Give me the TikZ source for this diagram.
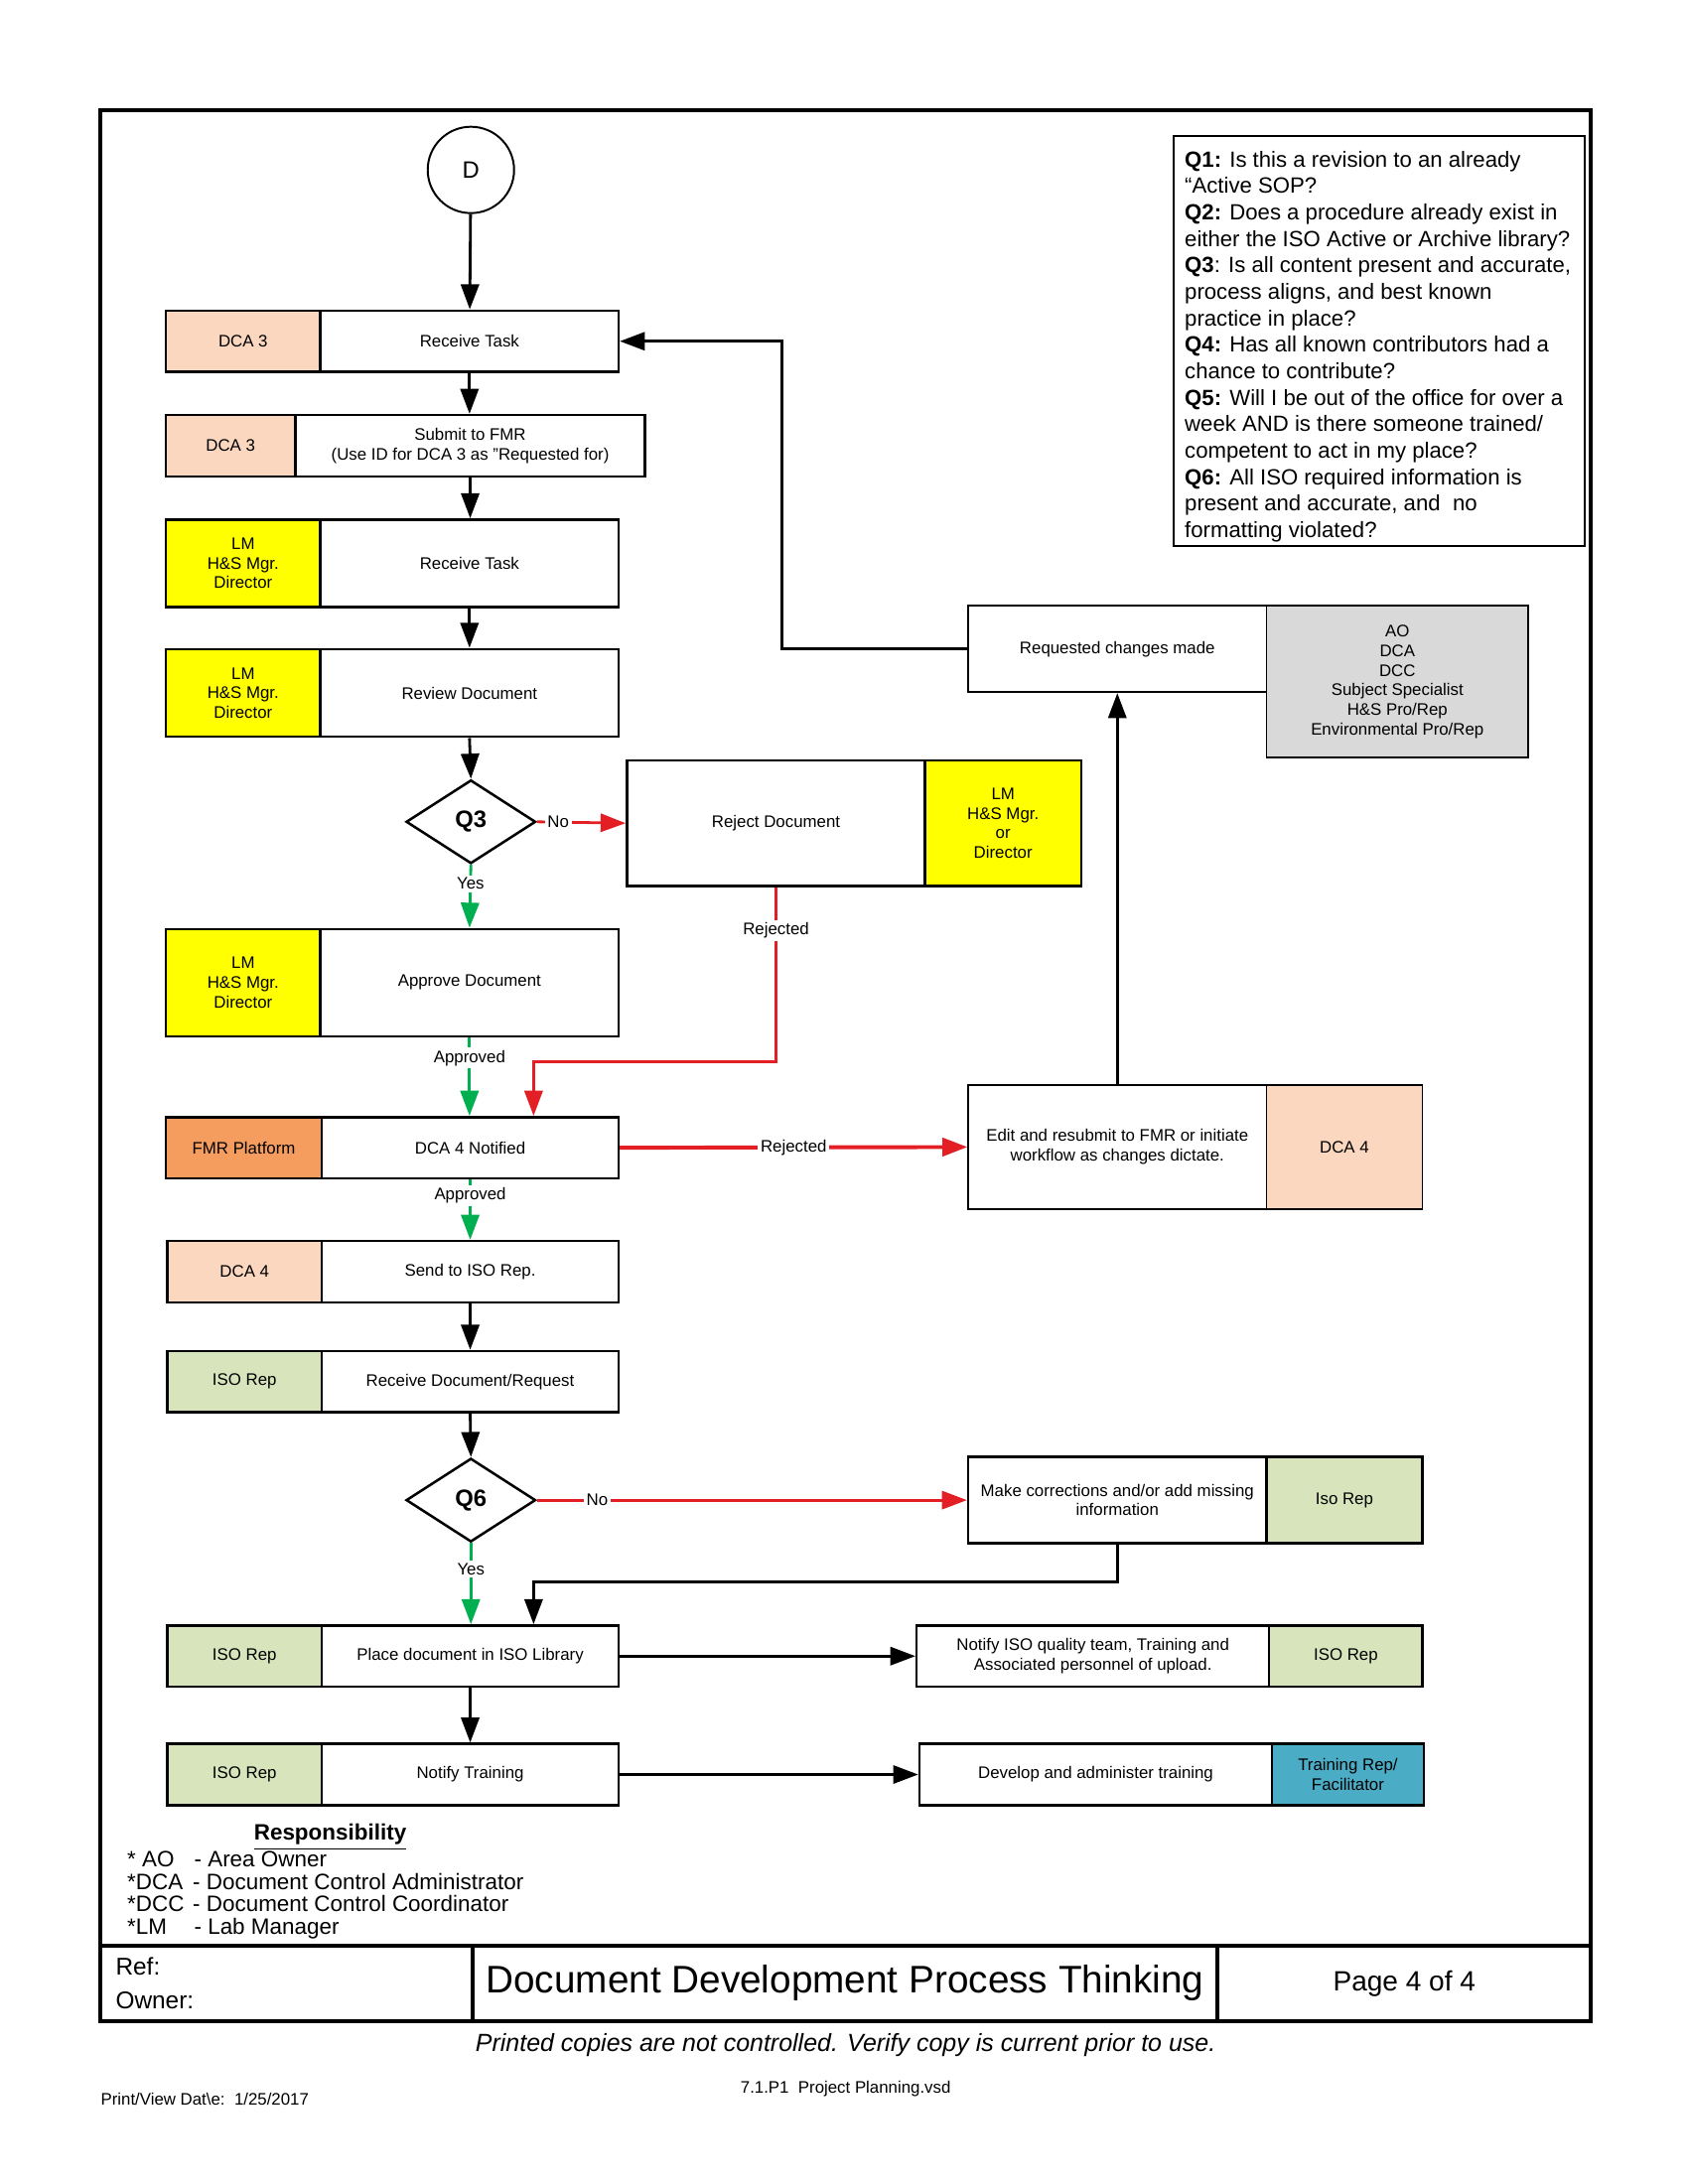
\documentclass[tikz,border=0pt]{standalone}
\usepackage{fontspec}
\setmainfont{Liberation Sans}
\usetikzlibrary{arrows.meta,shapes.geometric}

\definecolor{peach}{HTML}{FAD7BE}
\definecolor{lemon}{HTML}{FFFF00}
\definecolor{fmrorange}{HTML}{F59D5F}
\definecolor{isogreen}{HTML}{D8E4BC}
\definecolor{teamgray}{HTML}{D9D9D9}
\definecolor{teal}{HTML}{4BACC6}
\definecolor{nored}{HTML}{E41E25}
\definecolor{okgreen}{HTML}{00B050}

\tikzset{
	task/.style={draw, rectangle, line width=0.9pt, align=center, inner sep=1pt, font=\fontsize{6}{7}\selectfont},
	role/.style={task, fill=#1},
	flow/.style={line width=1pt, -{Triangle[length=9pt, width=6.5pt]}},
	okflow/.style={flow, color=okgreen},
	noflow/.style={flow, color=nored},
	lbl/.style={fill=white, inner sep=1pt, text=black, font=\fontsize{6}{7}\selectfont},
	query/.style={draw, diamond, aspect=1.55, minimum width=46.5pt, minimum height=30pt, inner sep=0pt, line width=0.9pt, font=\bfseries\fontsize{8.5}{10}\selectfont},
}

\begin{document}
\begin{tikzpicture}[x=0.5pt, y=-0.5pt]
	\useasboundingbox (0,0) rectangle (1212,1568);

	% page frame and title block
	\draw[line width=1.5pt] (72,79) rectangle (1142,1451);
	\draw[line width=1.5pt] (72,1397) -- (1142,1397);
	\draw[line width=1.5pt] (339,1397) -- (339,1451);
	\draw[line width=1.5pt] (874,1397) -- (874,1451);

	\node[anchor=west, font=\fontsize{8.7}{10}\selectfont] (ref) at (76,1412) {Ref:};
	\node[anchor=west, font=\fontsize{8.7}{10}\selectfont] (owner) at (76,1436) {Owner:};
	\node[font=\fontsize{13.8}{16}\selectfont] (title) at (606.5,1424) {Document Development Process Thinking};
	\node[font=\fontsize{10}{12}\selectfont] (page) at (1008,1424) {Page 4 of 4};
	\node[font=\itshape\fontsize{8.9}{10}\selectfont] (warn) at (607,1468) {Printed copies are not controlled. Verify copy is current prior to use.};
	\node[font=\fontsize{6}{7}\selectfont] (file) at (607,1500) {7.1.P1~~Project Planning.vsd};
	\node[anchor=west, inner sep=0pt, font=\fontsize{6}{7}\selectfont] (date) at (72,1507) {Print/View Dat\textbackslash e:~~1/25/2017};

	% questions
	\node[draw, line width=0.7pt, anchor=north west, minimum width=147.5pt, minimum height=147pt] (qbox) at (842,97) {};
	\node[anchor=north west, align=left, inner sep=0pt, font=\fontsize{7.9}{9.5}\selectfont] (qtext) at (850,108) {%
		\textbf{Q1:} Is this a revision to an already\\
		“Active SOP?\\
		\textbf{Q2:} Does a procedure already exist in\\
		either the ISO Active or Archive library?\\
		\textbf{Q3}: Is all content present and accurate,\\
		process aligns, and best known\\
		practice in place?\\
		\textbf{Q4:} Has all known contributors had a\\
		chance to contribute?\\
		\textbf{Q5:} Will I be out of the office for over a\\
		week AND is there someone trained/\\
		competent to act in my place?\\
		\textbf{Q6:} All ISO required information is\\
		present and accurate, and~ no\\
		formatting violated?};

	% main column
	\node[draw, circle, minimum size=31pt, line width=0.7pt, font=\fontsize{8.5}{10}\selectfont] (D) at (338,122) {D};

	\node[role=peach, minimum width=55.5pt, minimum height=22pt] (dcaA) at (174.5,245) {DCA 3};
	\node[task, minimum width=107pt, minimum height=22pt] (recvA) at (337,245) {Receive Task};

	\node[role=peach, minimum width=46.5pt, minimum height=22pt] (dcaB) at (165.5,320) {DCA 3};
	\node[task, minimum width=125.5pt, minimum height=22pt] (submit) at (337.5,320) {Submit to FMR\\(Use ID for DCA 3 as "Requested for)};

	\node[role=lemon, minimum width=55.5pt, minimum height=31.5pt] (lmA) at (174.5,404.5) {LM\\H\&S Mgr.\\Director};
	\node[task, minimum width=107pt, minimum height=31.5pt] (recvB) at (337,404.5) {Receive Task};

	\node[role=lemon, minimum width=55.5pt, minimum height=31.5pt] (lmB) at (174.5,497.5) {LM\\H\&S Mgr.\\Director};
	\node[task, minimum width=107pt, minimum height=31.5pt] (review) at (337,497.5) {Review Document};

	\node[query] (q3) at (338,590) {Q3};

	\node[task, minimum width=107pt, minimum height=45pt] (reject) at (557,591) {Reject Document};
	\node[role=lemon, minimum width=56pt, minimum height=45pt] (lmC) at (720,591) {LM\\H\&S Mgr.\\or\\Director};

	\node[role=lemon, minimum width=55.5pt, minimum height=38.5pt] (lmD) at (174.5,705.5) {LM\\H\&S Mgr.\\Director};
	\node[task, minimum width=107pt, minimum height=38.5pt] (approve) at (337,705.5) {Approve Document};

	\node[role=fmrorange, minimum width=56pt, minimum height=22pt] (fmr) at (175,824) {FMR Platform};
	\node[task, minimum width=106.5pt, minimum height=22pt] (notified) at (337.5,824) {DCA 4 Notified};

	\node[task, line width=0.6pt, minimum width=107pt, minimum height=44.5pt] (edit) at (802,823.5) {Edit and resubmit to FMR or initiate\\workflow as changes dictate.};
	\node[role=peach, line width=0.6pt, minimum width=56pt, minimum height=44.5pt] (dcaD) at (965,823.5) {DCA 4};

	\node[task, line width=0.6pt, minimum width=107pt, minimum height=31pt] (changes) at (802,466) {Requested changes made};
	\node[role=teamgray, line width=0.6pt, minimum width=94pt, minimum height=54.5pt] (team) at (1003,489.5) {AO\\DCA\\DCC\\Subject Specialist\\H\&S Pro/Rep\\Environmental Pro/Rep};

	\node[role=peach, minimum width=55.5pt, minimum height=22pt] (dcaC) at (175.5,913) {DCA 4};
	\node[task, minimum width=106.5pt, minimum height=22pt] (send) at (337.5,913) {Send to ISO Rep.};

	\node[role=isogreen, minimum width=55.5pt, minimum height=22pt] (isoA) at (175.5,992) {ISO Rep};
	\node[task, minimum width=106.5pt, minimum height=22pt] (recvDoc) at (337.5,992) {Receive Document/Request};

	\node[query] (q6) at (338,1077) {Q6};

	\node[task, minimum width=107pt, minimum height=31pt] (fix) at (802,1077) {Make corrections and/or add missing\\information};
	\node[role=isogreen, minimum width=56pt, minimum height=31pt] (isoB) at (965,1077) {Iso Rep};

	\node[role=isogreen, minimum width=55.5pt, minimum height=22pt] (isoC) at (175.5,1189) {ISO Rep};
	\node[task, minimum width=106.5pt, minimum height=22pt] (place) at (337.5,1189) {Place document in ISO Library};

	\node[task, minimum width=126.5pt, minimum height=22pt] (notifyISO) at (784.5,1189) {Notify ISO quality team, Training and\\Associated personnel of upload.};
	\node[role=isogreen, minimum width=55pt, minimum height=22pt] (isoD) at (966,1189) {ISO Rep};

	\node[role=isogreen, minimum width=55.5pt, minimum height=22pt] (isoE) at (175.5,1274) {ISO Rep};
	\node[task, minimum width=106.5pt, minimum height=22pt] (training) at (337.5,1274) {Notify Training};

	\node[task, minimum width=126.5pt, minimum height=22pt] (develop) at (786.5,1274) {Develop and administer training};
	\node[role=teal, minimum width=54.5pt, minimum height=22pt] (trainer) at (967.5,1274) {Training Rep/\\Facilitator};

	% legend
	\node[font=\bfseries\fontsize{8}{8}\selectfont] (resp) at (237,1319) {\underline{Responsibility}};
	\node[anchor=north west, align=left, inner sep=0pt, font=\fontsize{8}{8}\selectfont] (abbr) at (91,1329) {%
		\makebox[24pt][l]{* AO}- Area Owner\\
		\makebox[23.5pt][l]{*DCA}- Document Control Administrator\\
		\makebox[23.5pt][l]{*DCC}- Document Control Coordinator\\
		\makebox[24pt][l]{*LM}- Lab Manager};

	% connectors
	\coordinate (rjA) at (383,762);
	\coordinate (back) at (561,466);
	\coordinate (fxA) at (383,1136);

	\draw[flow] (D) -- (recvA);
	\draw[flow] (recvA.south) -- (recvA.south |- submit.north);
	\draw[flow] (submit.south) -- (submit.south |- recvB.north);
	\draw[flow] (recvB) -- (review);
	\draw[flow] (review.south) -- (q3.north);
	\draw[noflow] (q3.east) -- node[lbl, pos=0.24] {No} (reject.west);
	\draw[okflow] (q3.south) -- node[lbl, pos=0.3] {Yes} (approve.north);
	\draw[noflow] (reject.south) -- node[lbl, pos=0.25] {Rejected} (reject.south |- rjA) -- (rjA) -- (rjA |- notified.north);
	\draw[okflow] (approve.south) -- node[lbl, pos=0.26] {Approved} (approve.south |- notified.north);
	\draw[noflow, line width=1.4pt] (notified.east) -- node[lbl, pos=0.5] {Rejected} (edit.west);
	\draw[flow] (edit.north) -- (changes.south);
	\draw[flow] (changes.west) -- (back) |- (recvA.east);
	\draw[okflow] (notified.south) -- node[lbl, pos=0.27] {Approved} (notified.south |- send.north);
	\draw[flow] (send) -- (recvDoc);
	\draw[flow] (recvDoc.south) -- (q6.north);
	\draw[noflow] (q6.east) -- node[lbl, pos=0.14] {No} (fix.west);
	\draw[okflow] (q6.south) -- node[lbl, pos=0.32] {Yes} (q6.south |- place.north);
	\draw[flow] (fix.south) |- (fxA) -- (fxA |- place.north);
	\draw[flow] (place) -- (notifyISO);
	\draw[flow] (place) -- (training);
	\draw[flow] (training) -- (develop);
\end{tikzpicture}
\end{document}
